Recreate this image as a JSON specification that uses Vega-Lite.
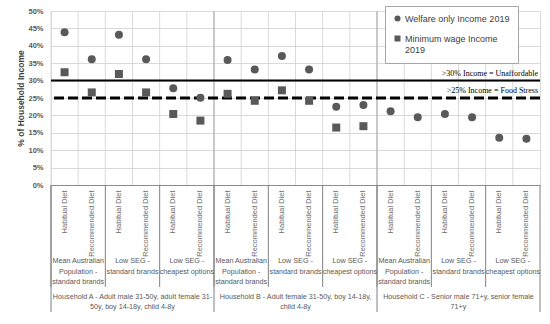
{
  "$schema": "https://vega.github.io/schema/vega-lite/v6.json",
  "width": 489,
  "height": 174,
  "autosize": "none",
  "padding": {"left": 51, "top": 11, "right": 10, "bottom": 139},
  "background": "white",
  "config": {
    "view": {"stroke": "#d9d9d9"},
    "font": "Liberation Sans"
  },
  "datasets": {
    "costs": [
      {"cat": "A1 / Mean Australian Population - standard brands / Habitual Diet", "hh": "Household A - Adult male 31-50y, adult female 31-50y, boy 14-18y, child 4-8y", "series": "Welfare only Income 2019", "pct": 0.439},
      {"cat": "A2 / Mean Australian Population - standard brands / Recommended Diet", "hh": "Household A - Adult male 31-50y, adult female 31-50y, boy 14-18y, child 4-8y", "series": "Welfare only Income 2019", "pct": 0.361},
      {"cat": "A3 / Low SEG - standard brands / Habitual Diet", "hh": "Household A - Adult male 31-50y, adult female 31-50y, boy 14-18y, child 4-8y", "series": "Welfare only Income 2019", "pct": 0.432},
      {"cat": "A4 / Low SEG - standard brands / Recommended Diet", "hh": "Household A - Adult male 31-50y, adult female 31-50y, boy 14-18y, child 4-8y", "series": "Welfare only Income 2019", "pct": 0.361},
      {"cat": "A5 / Low SEG - cheapest options / Habitual Diet", "hh": "Household A - Adult male 31-50y, adult female 31-50y, boy 14-18y, child 4-8y", "series": "Welfare only Income 2019", "pct": 0.278},
      {"cat": "A6 / Low SEG - cheapest options / Recommended Diet", "hh": "Household A - Adult male 31-50y, adult female 31-50y, boy 14-18y, child 4-8y", "series": "Welfare only Income 2019", "pct": 0.251},
      {"cat": "B1 / Mean Australian Population - standard brands / Habitual Diet", "hh": "Household B - Adult female 31-50y, boy 14-18y, child 4-8y", "series": "Welfare only Income 2019", "pct": 0.359},
      {"cat": "B2 / Mean Australian Population - standard brands / Recommended Diet", "hh": "Household B - Adult female 31-50y, boy 14-18y, child 4-8y", "series": "Welfare only Income 2019", "pct": 0.332},
      {"cat": "B3 / Low SEG - standard brands / Habitual Diet", "hh": "Household B - Adult female 31-50y, boy 14-18y, child 4-8y", "series": "Welfare only Income 2019", "pct": 0.371},
      {"cat": "B4 / Low SEG - standard brands / Recommended Diet", "hh": "Household B - Adult female 31-50y, boy 14-18y, child 4-8y", "series": "Welfare only Income 2019", "pct": 0.332},
      {"cat": "B5 / Low SEG - cheapest options / Habitual Diet", "hh": "Household B - Adult female 31-50y, boy 14-18y, child 4-8y", "series": "Welfare only Income 2019", "pct": 0.225},
      {"cat": "B6 / Low SEG - cheapest options / Recommended Diet", "hh": "Household B - Adult female 31-50y, boy 14-18y, child 4-8y", "series": "Welfare only Income 2019", "pct": 0.230},
      {"cat": "C1 / Mean Australian Population - standard brands / Habitual Diet", "hh": "Household C - Senior male 71+y, senior female 71+y", "series": "Welfare only Income 2019", "pct": 0.212},
      {"cat": "C2 / Mean Australian Population - standard brands / Recommended Diet", "hh": "Household C - Senior male 71+y, senior female 71+y", "series": "Welfare only Income 2019", "pct": 0.195},
      {"cat": "C3 / Low SEG - standard brands / Habitual Diet", "hh": "Household C - Senior male 71+y, senior female 71+y", "series": "Welfare only Income 2019", "pct": 0.204},
      {"cat": "C4 / Low SEG - standard brands / Recommended Diet", "hh": "Household C - Senior male 71+y, senior female 71+y", "series": "Welfare only Income 2019", "pct": 0.195},
      {"cat": "C5 / Low SEG - cheapest options / Habitual Diet", "hh": "Household C - Senior male 71+y, senior female 71+y", "series": "Welfare only Income 2019", "pct": 0.136},
      {"cat": "C6 / Low SEG - cheapest options / Recommended Diet", "hh": "Household C - Senior male 71+y, senior female 71+y", "series": "Welfare only Income 2019", "pct": 0.133},
      {"cat": "A1 / Mean Australian Population - standard brands / Habitual Diet", "hh": "Household A - Adult male 31-50y, adult female 31-50y, boy 14-18y, child 4-8y", "series": "Minimum wage Income 2019", "pct": 0.324},
      {"cat": "A2 / Mean Australian Population - standard brands / Recommended Diet", "hh": "Household A - Adult male 31-50y, adult female 31-50y, boy 14-18y, child 4-8y", "series": "Minimum wage Income 2019", "pct": 0.266},
      {"cat": "A3 / Low SEG - standard brands / Habitual Diet", "hh": "Household A - Adult male 31-50y, adult female 31-50y, boy 14-18y, child 4-8y", "series": "Minimum wage Income 2019", "pct": 0.319},
      {"cat": "A4 / Low SEG - standard brands / Recommended Diet", "hh": "Household A - Adult male 31-50y, adult female 31-50y, boy 14-18y, child 4-8y", "series": "Minimum wage Income 2019", "pct": 0.266},
      {"cat": "A5 / Low SEG - cheapest options / Habitual Diet", "hh": "Household A - Adult male 31-50y, adult female 31-50y, boy 14-18y, child 4-8y", "series": "Minimum wage Income 2019", "pct": 0.204},
      {"cat": "A6 / Low SEG - cheapest options / Recommended Diet", "hh": "Household A - Adult male 31-50y, adult female 31-50y, boy 14-18y, child 4-8y", "series": "Minimum wage Income 2019", "pct": 0.185},
      {"cat": "B1 / Mean Australian Population - standard brands / Habitual Diet", "hh": "Household B - Adult female 31-50y, boy 14-18y, child 4-8y", "series": "Minimum wage Income 2019", "pct": 0.262},
      {"cat": "B2 / Mean Australian Population - standard brands / Recommended Diet", "hh": "Household B - Adult female 31-50y, boy 14-18y, child 4-8y", "series": "Minimum wage Income 2019", "pct": 0.242},
      {"cat": "B3 / Low SEG - standard brands / Habitual Diet", "hh": "Household B - Adult female 31-50y, boy 14-18y, child 4-8y", "series": "Minimum wage Income 2019", "pct": 0.272},
      {"cat": "B4 / Low SEG - standard brands / Recommended Diet", "hh": "Household B - Adult female 31-50y, boy 14-18y, child 4-8y", "series": "Minimum wage Income 2019", "pct": 0.242},
      {"cat": "B5 / Low SEG - cheapest options / Habitual Diet", "hh": "Household B - Adult female 31-50y, boy 14-18y, child 4-8y", "series": "Minimum wage Income 2019", "pct": 0.165},
      {"cat": "B6 / Low SEG - cheapest options / Recommended Diet", "hh": "Household B - Adult female 31-50y, boy 14-18y, child 4-8y", "series": "Minimum wage Income 2019", "pct": 0.169}
    ],
    "thresholds": [
      {"threshold": 0.30, "kind": "Unaffordable", "label": ">30% Income = Unaffordable"},
      {"threshold": 0.25, "kind": "Food Stress", "label": ">25% Income = Food Stress"}
    ]
  },
  "data": {"name": "costs"},
  "layer": [
    {
      "transform": [{"filter": "datum.series == 'Welfare only Income 2019'"}],
      "mark": {"type": "rule", "color": "#d9d9d9", "strokeWidth": 1},
      "encoding": {
        "x": {
          "field": "cat", "type": "nominal", "bandPosition": 0, "title": null,
          "scale": {"type": "band", "paddingInner": 0, "paddingOuter": 0},
          "axis": {
            "orient": "bottom", "ticks": false, "grid": false, "labelOverlap": false,
            "domain": true, "domainColor": "#8c8c8c",
            "labelAngle": 270, "labelAlign": "right", "labelBaseline": "middle", "labelPadding": 5,
            "labelFontSize": 7.5, "labelColor": "#6e6e6e",
            "labelExpr": "split(datum.value, ' / ')[2]"
          }
        },
        "y": {
          "datum": 0, "type": "quantitative", "title": "% of Household Income",
          "scale": {"domain": [0, 0.5]},
          "axis": {
            "format": ".0%", "values": [0, 0.05, 0.1, 0.15, 0.2, 0.25, 0.3, 0.35, 0.4, 0.45, 0.5],
            "tickCount": 20, "labelOverlap": false,
            "grid": true, "gridColor": "#d9d9d9", "domain": false, "ticks": false,
            "labelPadding": 8, "labelFontSize": 7.5, "labelFontWeight": "bold", "labelColor": "#595959",
            "titleFontSize": 8.5, "titleFontWeight": "bold", "titleColor": "#404040", "titlePadding": 2
          }
        },
        "y2": {"datum": 0.5}
      }
    },
    {
      "transform": [{"filter": "datum.series == 'Welfare only Income 2019' && (indexof(datum.cat, 'B1 ') == 0 || indexof(datum.cat, 'C1 ') == 0)"}],
      "mark": {"type": "rule", "color": "#a6a6a6", "strokeWidth": 1},
      "encoding": {
        "x": {"field": "cat", "type": "nominal", "bandPosition": 0, "title": null, "scale": {"type": "band", "paddingInner": 0, "paddingOuter": 0}},
        "y": {"datum": 0, "type": "quantitative", "title": "% of Household Income", "scale": {"domain": [0, 0.5]}},
        "y2": {"datum": 0.5}
      }
    },
    {
      "transform": [{"filter": "datum.series == 'Welfare only Income 2019' && indexof(datum.cat, 'Habitual') > 0"}],
      "mark": {"type": "rule", "color": "#808080", "strokeWidth": 1},
      "encoding": {
        "x": {"field": "cat", "type": "nominal", "bandPosition": 0, "title": null, "scale": {"type": "band", "paddingInner": 0, "paddingOuter": 0}},
        "y": {"datum": 0, "type": "quantitative", "title": "% of Household Income", "scale": {"domain": [0, 0.5]}},
        "y2": {"datum": -0.293}
      }
    },
    {
      "transform": [{"filter": "datum.series == 'Welfare only Income 2019' && indexof(datum.cat, '1 / ') == 1"}],
      "mark": {"type": "rule", "color": "#808080", "strokeWidth": 1},
      "encoding": {
        "x": {"field": "cat", "type": "nominal", "bandPosition": 0, "title": null, "scale": {"type": "band", "paddingInner": 0, "paddingOuter": 0}},
        "y": {"datum": 0, "type": "quantitative", "title": "% of Household Income", "scale": {"domain": [0, 0.5]}},
        "y2": {"datum": -0.365}
      }
    },
    {
      "transform": [{"filter": "datum.series == 'Welfare only Income 2019' && indexof(datum.cat, 'C6 ') == 0"}],
      "mark": {"type": "rule", "color": "#808080", "strokeWidth": 1},
      "encoding": {
        "x": {"field": "cat", "type": "nominal", "bandPosition": 1, "title": null, "scale": {"type": "band", "paddingInner": 0, "paddingOuter": 0}},
        "y": {"datum": 0, "type": "quantitative", "title": "% of Household Income", "scale": {"domain": [0, 0.5]}},
        "y2": {"datum": -0.365}
      }
    },
    {
      "transform": [
        {"filter": "datum.series == 'Welfare only Income 2019' && indexof(datum.cat, 'Habitual') > 0"},
        {"calculate": "indexof(datum.cat, 'Mean') >= 0 ? 'Mean Australian|Population -|standard brands' : indexof(datum.cat, 'standard') >= 0 ? 'Low SEG -|standard brands' : 'Low SEG -|cheapest options'", "as": "grpLabel"}
      ],
      "mark": {"type": "text", "align": "center", "baseline": "top", "lineBreak": "|", "lineHeight": 10.5, "fontSize": 7.2, "color": "#595959", "font": "Liberation Sans"},
      "encoding": {
        "x": {"field": "cat", "type": "nominal", "bandPosition": 1, "title": null, "scale": {"type": "band", "paddingInner": 0, "paddingOuter": 0}},
        "y": {"datum": -0.207, "type": "quantitative", "title": "% of Household Income", "scale": {"domain": [0, 0.5]}},
        "text": {"field": "grpLabel"}
      }
    },
    {
      "transform": [
        {"filter": "datum.series == 'Welfare only Income 2019' && indexof(datum.cat, '3 / ') == 1"},
        {"calculate": "substring(datum.cat, 0, 1) == 'A' ? replace(datum.hh, 'adult female 31-', 'adult female 31-|') : substring(datum.cat, 0, 1) == 'B' ? replace(datum.hh, '14-18y, ', '14-18y,|') : replace(datum.hh, 'senior female ', 'senior female|')", "as": "hhLabel"}
      ],
      "mark": {"type": "text", "align": "center", "baseline": "top", "lineBreak": "|", "lineHeight": 10, "fontSize": 7.2, "color": "#595959", "font": "Liberation Sans"},
      "encoding": {
        "x": {"field": "cat", "type": "nominal", "bandPosition": 1, "title": null, "scale": {"type": "band", "paddingInner": 0, "paddingOuter": 0}},
        "y": {"datum": -0.309, "type": "quantitative", "title": "% of Household Income", "scale": {"domain": [0, 0.5]}},
        "text": {"field": "hhLabel"}
      }
    },
    {
      "data": {"name": "thresholds"},
      "mark": {"type": "rule", "color": "black"},
      "encoding": {
        "y": {"field": "threshold", "type": "quantitative", "title": "% of Household Income", "scale": {"domain": [0, 0.5]}},
        "strokeDash": {"field": "kind", "type": "nominal", "scale": {"domain": ["Unaffordable", "Food Stress"], "range": [[1, 0], [10, 4]]}, "legend": null},
        "strokeWidth": {"field": "kind", "type": "nominal", "scale": {"domain": ["Unaffordable", "Food Stress"], "range": [2, 3]}, "legend": null}
      }
    },
    {
      "data": {"name": "thresholds"},
      "mark": {"type": "text", "align": "right", "baseline": "bottom", "dx": -2, "dy": -3, "font": "Liberation Serif", "fontSize": 8, "color": "black"},
      "encoding": {
        "x": {"value": "width"},
        "y": {"field": "threshold", "type": "quantitative", "title": "% of Household Income", "scale": {"domain": [0, 0.5]}},
        "text": {"field": "label"}
      }
    },
    {
      "mark": {"type": "point", "filled": true, "size": 64, "color": "#595959", "opacity": 1},
      "encoding": {
        "x": {"field": "cat", "type": "nominal", "title": null, "scale": {"type": "band", "paddingInner": 0, "paddingOuter": 0}},
        "y": {"field": "pct", "type": "quantitative", "title": "% of Household Income", "scale": {"domain": [0, 0.5]}},
        "shape": {
          "field": "series", "type": "nominal",
          "scale": {"domain": ["Welfare only Income 2019", "Minimum wage Income 2019"], "range": ["circle", "square"]},
          "legend": {
            "orient": "none", "legendX": 334, "legendY": -5, "title": null,
            "strokeColor": "#a6a6a6", "fillColor": "white", "padding": 8, "rowPadding": 10,
            "labelFont": "Liberation Sans", "labelFontSize": 9, "labelColor": "#404040",
            "labelOffset": 3, "labelLimit": 200,
            "symbolSize": 36, "symbolFillColor": "#595959", "symbolStrokeWidth": 0,
            "labelExpr": "datum.label == 'Minimum wage Income 2019' ? ['Minimum wage Income', '2019'] : datum.label"
          }
        }
      }
    }
  ]
}
